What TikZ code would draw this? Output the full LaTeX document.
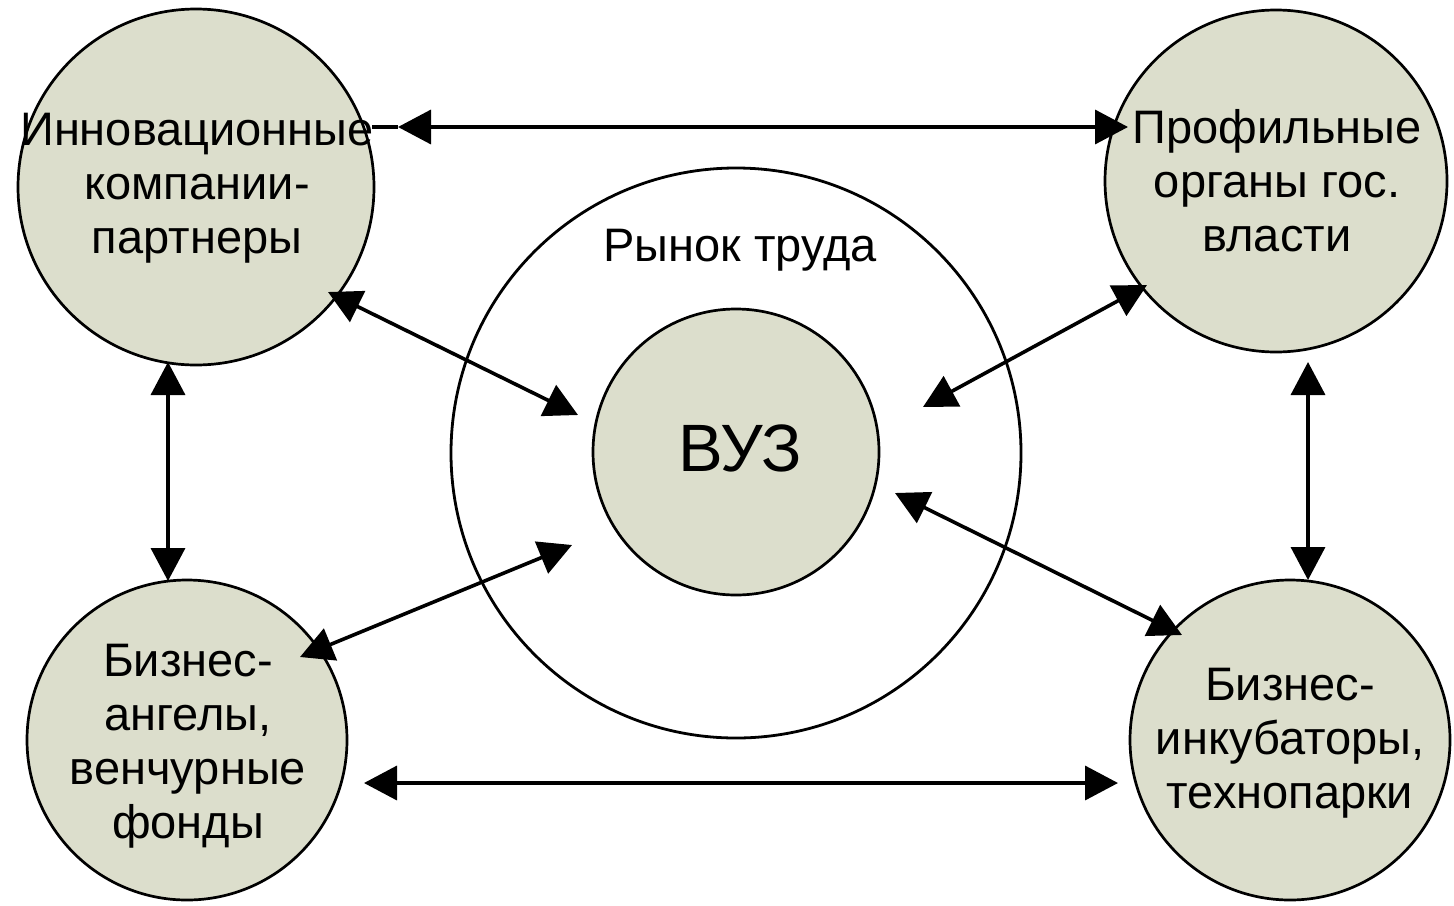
\documentclass[tikz,border=0pt]{standalone}
\usepackage{fontspec}
\setmainfont{Liberation Sans}
\usetikzlibrary{arrows.meta}
\definecolor{fillc}{RGB}{220,222,204}
\begin{document}
\begin{tikzpicture}[x=0.5pt,y=-0.5pt,
  ball/.style={circle, draw=black, line width=1.35pt, fill=fillc, inner sep=0pt},
  lbl/.style={align=center, font=\fontsize{23.5}{27}\selectfont, inner sep=0pt},
  conn/.style={line width=1.8pt, {Triangle[length=16.5pt,width=17pt]}-{Triangle[length=16.5pt,width=17pt]}},
  plain/.style={line width=1.8pt}]
\useasboundingbox (0,0) rectangle (1454,905);
% market circle
\node[circle, draw=black, line width=1.4pt, inner sep=0pt, minimum size=285pt] (market) at (736,453) {};
\node[lbl] (markettext) at (740,250) {Рынок труда};
% university
\node[ball, minimum size=143pt] (vuz) at (736,452) {};
\node[lbl, font=\fontsize{33.5}{38}\selectfont] (vuztext) at (740,448) {ВУЗ};
% partner circles
\node[ball, minimum size=178pt] (tl) at (196,187) {};
\node[lbl] (tltext) at (197,188) {Инновационные\\компании-\\партнеры};
\node[ball, minimum size=171pt] (tr) at (1276,181) {};
\node[lbl] (trtext) at (1277,181) {Профильные\\органы гос.\\власти};
\node[ball, minimum size=160pt] (bl) at (187,740) {};
\node[lbl] (bltext) at (188,746) {Бизнес-\\ангелы,\\венчурные\\фонды};
\node[ball, minimum size=160pt] (br) at (1290,740) {};
\node[lbl] (brtext) at (1290,743) {Бизнес-\\инкубаторы,\\технопарки};
% connector ends
\coordinate (t0) at (372,127);
\coordinate (t1) at (398,127);
\coordinate (t2) at (1128,127);
\coordinate (b1) at (364,783);
\coordinate (b2) at (1118,783);
\coordinate (l1) at (168,362);
\coordinate (l2) at (168,581);
\coordinate (r1) at (1308,362);
\coordinate (r2) at (1308,580);
\coordinate (d1a) at (328,292);
\coordinate (d1b) at (578,415);
\coordinate (d2a) at (923,407);
\coordinate (d2b) at (1147,285);
\coordinate (d3a) at (300,657);
\coordinate (d3b) at (572,545);
\coordinate (d4a) at (895,493);
\coordinate (d4b) at (1182,635);
% connectors
\draw[plain] (t0) -- (t1);
\draw[conn] (t1) -- (t2);
\draw[conn] (b1) -- (b2);
\draw[conn] (l1) -- (l2);
\draw[conn] (r1) -- (r2);
\draw[conn] (d1a) -- (d1b);
\draw[conn] (d2a) -- (d2b);
\draw[conn] (d3a) -- (d3b);
\draw[conn] (d4a) -- (d4b);
\end{tikzpicture}
\end{document}
